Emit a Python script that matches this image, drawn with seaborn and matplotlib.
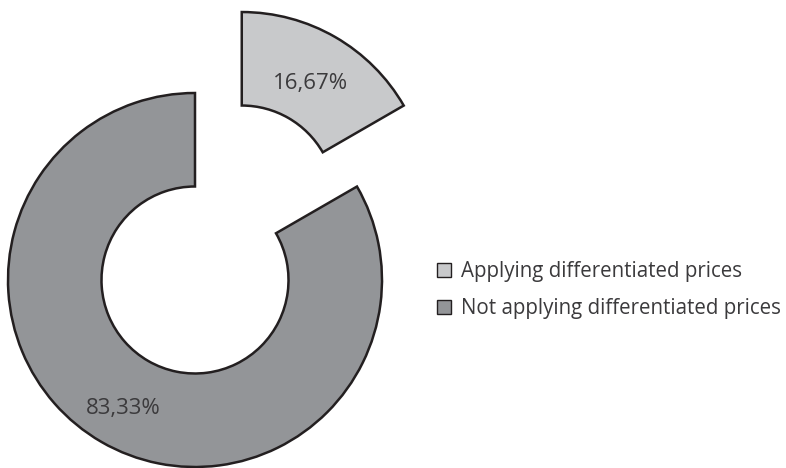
import numpy as np
import matplotlib
matplotlib.use("Agg")
import matplotlib.pyplot as plt
from matplotlib.patches import Patch
import seaborn as sns

categories = ["Applying differentiated prices", "Not applying differentiated prices"]
shares = [16.67, 83.33]
colors = ["#c8c9cb", "#939598"]
explode = [0.5, 0.0]

sns.set_theme(style="white")
plt.rcParams["font.family"] = ["Open Sans", "DejaVu Sans"]

W, H, dpi = 786, 468, 100
fig = plt.figure(figsize=(W / dpi, H / dpi), dpi=dpi)
ax = fig.add_axes([0, 0, 1, 1])

# ring radius and centre, in pixels
R, cx, cy = 187, 195, 280

edge = "#231f20"
wedges, texts, autotexts = ax.pie(
    shares,
    colors=colors,
    explode=explode,
    startangle=90,
    counterclock=False,
    radius=1.0,
    wedgeprops=dict(width=0.5, edgecolor=edge, linewidth=1.8, joinstyle="miter"),
    autopct=lambda p: f"{p:.2f}%".replace(".", ","),
    pctdistance=0.75,
    textprops=dict(fontsize=16, color="#3b3a3c"),
)

# nudge each percentage label radially within its wedge
for w, t, d in zip(wedges, autotexts, [0.735, 0.77]):
    mid = np.deg2rad((w.theta1 + w.theta2) / 2)
    x0, y0 = w.center
    t.set_position((x0 + d * np.cos(mid), y0 + d * np.sin(mid) - 0.02))

ax.set_xlim(-cx / R, (W - cx) / R)
ax.set_ylim(-(H - cy) / R, cy / R)
ax.set_aspect("equal")
ax.axis("off")

handles = [Patch(facecolor=c, edgecolor=edge, linewidth=1.0) for c in colors]
fig.legend(
    handles, categories,
    loc="center left",
    bbox_to_anchor=(437 / W, 1 - 290 / H),
    frameon=False,
    borderpad=0,
    borderaxespad=0,
    fontsize=14.8,
    handlelength=0.68,
    handleheight=0.68,
    handletextpad=0.5,
    labelspacing=0.8,
    labelcolor="#3b3a3c",
)

fig.savefig("out.png", dpi=dpi)
